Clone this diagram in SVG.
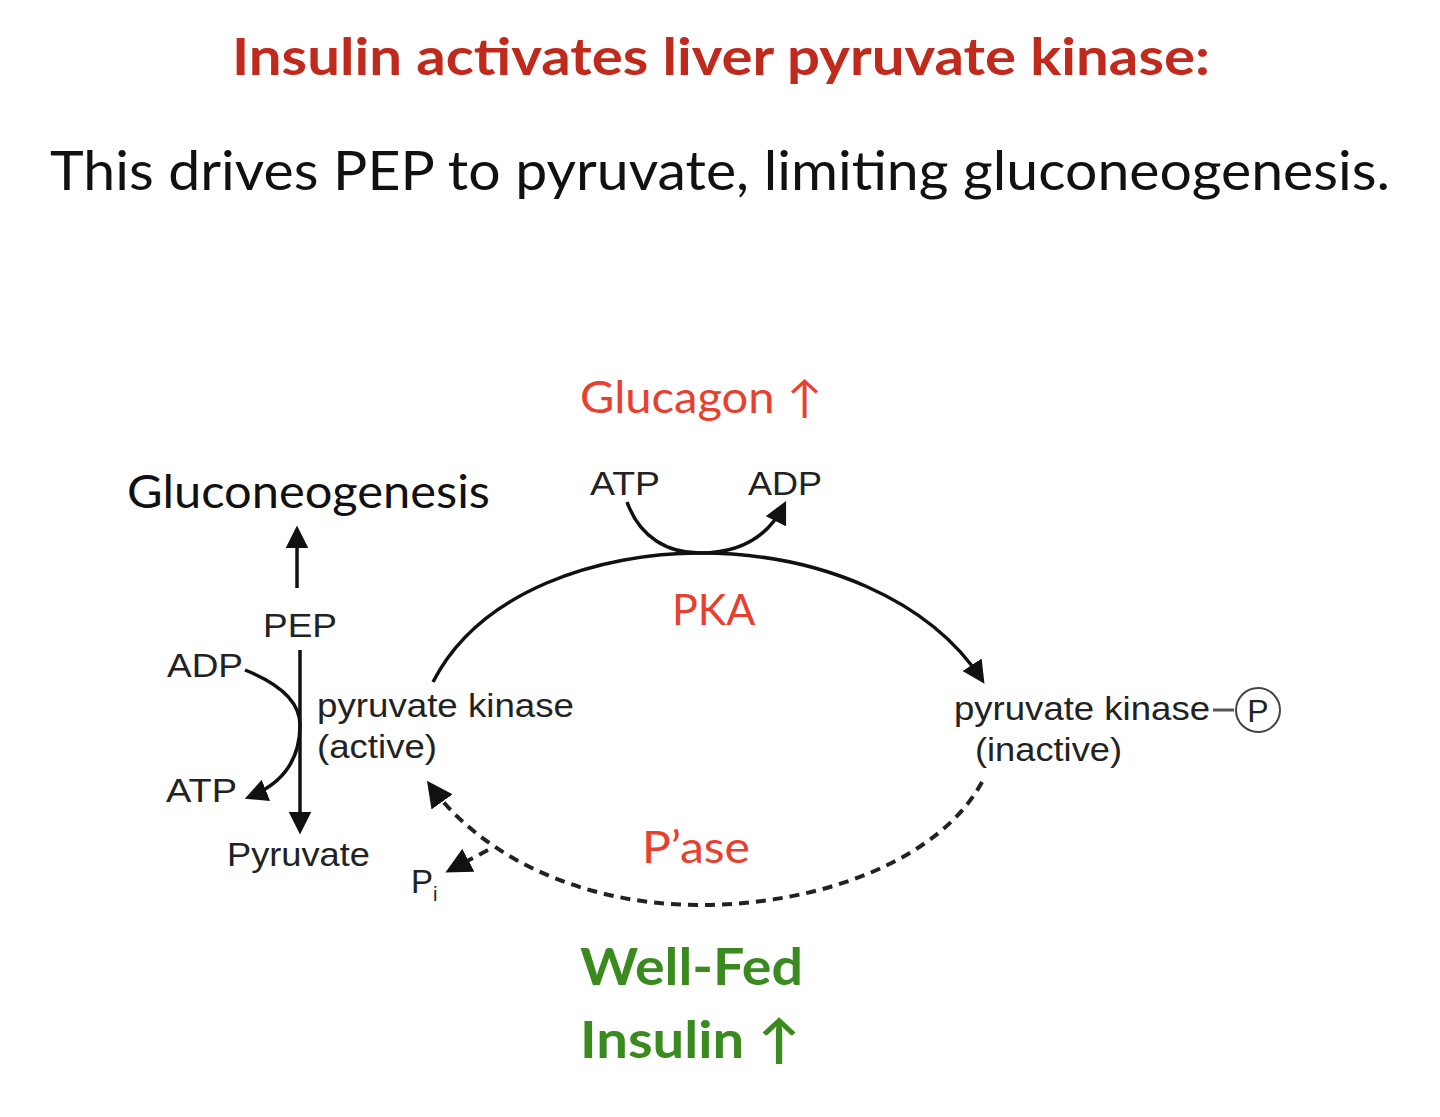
<svg xmlns="http://www.w3.org/2000/svg" width="1440" height="1117" viewBox="0 0 1440 1117">
<style>
.cal{font-family:Lato,"Open Sans","Liberation Sans",sans-serif}
.ar{font-family:"Liberation Sans",Arial,sans-serif;fill:#222}
.red{fill:#e8402f}
.green{fill:#3b8a1f;font-weight:bold}
.ln{fill:none;stroke:#111;stroke-width:3.5}
.dash{fill:none;stroke:#222;stroke-width:4;stroke-dasharray:10 7}
</style>
<defs>
<marker id="ahs" viewBox="0 0 10 10" refX="8" refY="5" markerWidth="6.5" markerHeight="6.5" orient="auto">
<path d="M0,0 L10,5 L0,10 z" fill="#111"/>
</marker>
</defs>
<rect width="1440" height="1117" fill="#fff"/>
<g id="title">
<text class="cal" x="232" y="75" font-size="52" font-weight="bold" fill="#bf2a1d" textLength="978" lengthAdjust="spacingAndGlyphs">Insulin activates liver pyruvate kinase:</text>
<text class="cal" x="50" y="190" font-size="54" fill="#111" textLength="1340" lengthAdjust="spacingAndGlyphs">This drives PEP to pyruvate, limiting gluconeogenesis.</text>
</g>
<g id="connectors">
<path class="ln" d="M433,682 C480,590 600,553 700,553 C820,553 930,600 982,680" marker-end="url(#ahs)"/>
<path class="ln" d="M627,502 C640,538 668,553 700,553 C732,553 765,543 784,505" marker-end="url(#ahs)"/>
<path class="ln" d="M297,588 L297,530" marker-end="url(#ahs)"/>
<path class="ln" d="M300,650 L300,830" marker-end="url(#ahs)"/>
<path class="ln" d="M245,670 C275,682 300,700 300,725 C300,760 282,784 249,797" marker-end="url(#ahs)"/>
<path class="dash" d="M982,782 C940,860 820,905 700,905 C580,905 480,855 430,785" marker-end="url(#ahs)"/>
<path class="dash" d="M488,850 L450,870" marker-end="url(#ahs)"/>
<path d="M1213,710 L1234,710" stroke="#555" stroke-width="3"/>
</g>
<g id="glucagon"><text class="cal red" x="580" y="413" font-size="44" textLength="242" lengthAdjust="spacingAndGlyphs">Glucagon ↑</text></g>
<g id="gluconeogenesis"><text class="cal" x="127" y="508" font-size="46" fill="#111" textLength="363" lengthAdjust="spacingAndGlyphs">Gluconeogenesis</text></g>
<g id="atp-top"><text class="ar" x="590" y="495" font-size="33" textLength="70" lengthAdjust="spacingAndGlyphs">ATP</text></g>
<g id="adp-top"><text class="ar" x="748" y="495" font-size="33" textLength="74" lengthAdjust="spacingAndGlyphs">ADP</text></g>
<g id="pka"><text class="cal red" x="672" y="625" font-size="43">PKA</text></g>
<g id="pep"><text class="ar" x="263" y="637" font-size="33" textLength="74" lengthAdjust="spacingAndGlyphs">PEP</text></g>
<g id="adp-left"><text class="ar" x="167" y="677" font-size="33" textLength="76" lengthAdjust="spacingAndGlyphs">ADP</text></g>
<g id="atp-left"><text class="ar" x="166" y="802" font-size="33" textLength="71" lengthAdjust="spacingAndGlyphs">ATP</text></g>
<g id="pyruvate"><text class="ar" x="227" y="866" font-size="33" textLength="143" lengthAdjust="spacingAndGlyphs">Pyruvate</text></g>
<g id="pk-active">
<text class="ar" x="317" y="717" font-size="34" textLength="257" lengthAdjust="spacingAndGlyphs">pyruvate kinase</text>
<text class="ar" x="317" y="758" font-size="34" textLength="120" lengthAdjust="spacingAndGlyphs">(active)</text>
</g>
<g id="pk-inactive">
<text class="ar" x="954" y="720" font-size="34" textLength="256" lengthAdjust="spacingAndGlyphs">pyruvate kinase</text>
<text class="ar" x="975" y="761" font-size="34" textLength="147" lengthAdjust="spacingAndGlyphs">(inactive)</text>
<circle cx="1258" cy="710" r="22" fill="none" stroke="#444" stroke-width="2"/>
<text class="ar" x="1258" y="722" font-size="32" text-anchor="middle">P</text>
</g>
<g id="pi"><text class="ar" x="411" y="893" font-size="33">P<tspan font-size="20" dy="8">i</tspan></text></g>
<g id="pase"><text class="cal red" x="642" y="863" font-size="44" textLength="108" lengthAdjust="spacingAndGlyphs">P’ase</text></g>
<g id="wellfed">
<text class="cal green" x="580" y="985" font-size="52" textLength="223" lengthAdjust="spacingAndGlyphs">Well-Fed</text>
<text class="cal green" x="580" y="1058" font-size="52" textLength="220" lengthAdjust="spacingAndGlyphs">Insulin ↑</text>
</g>
</svg>
